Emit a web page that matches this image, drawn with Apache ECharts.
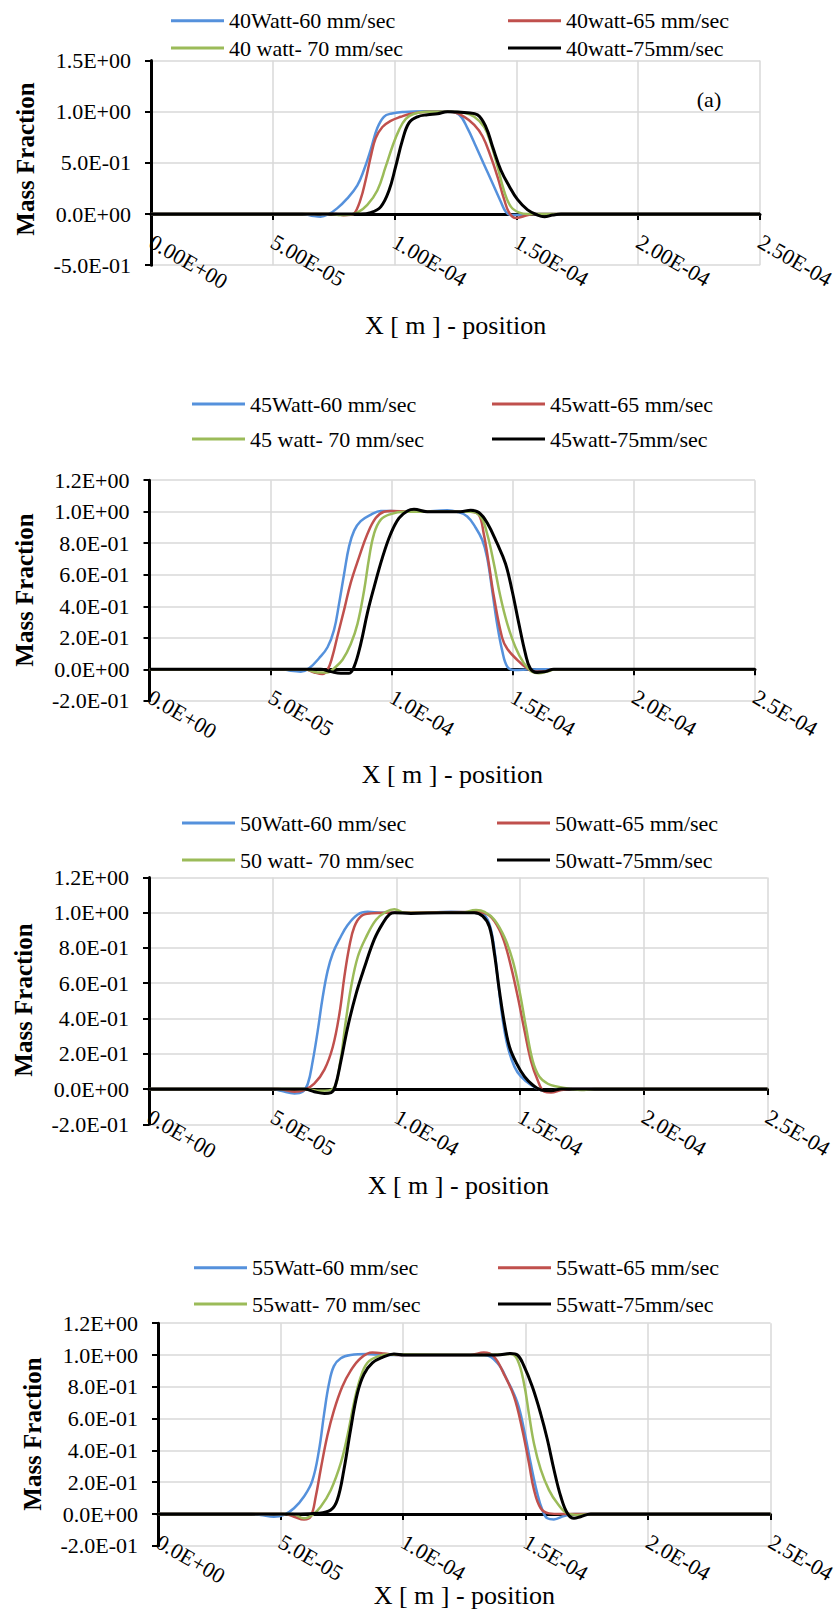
<!DOCTYPE html>
<html>
<head>
<meta charset="utf-8">
<script src="https://cdn.jsdelivr.net/npm/echarts@6.0.0/dist/echarts.min.js"></script>
<style>
html,body{margin:0;padding:0;background:#fff;}
#c{width:839px;height:1611px;}
</style>
</head>
<body>
<div id="c"></div>
<script>
// ---------- DATA (x in micrometres, y = mass fraction) ----------
const names40 = ['40Watt-60 mm/sec', '40watt-65 mm/sec', '40 watt- 70 mm/sec', '40watt-75mm/sec'];
const names45 = ['45Watt-60 mm/sec', '45watt-65 mm/sec', '45 watt- 70 mm/sec', '45watt-75mm/sec'];
const names50 = ['50Watt-60 mm/sec', '50watt-65 mm/sec', '50 watt- 70 mm/sec', '50watt-75mm/sec'];
const names55 = ['55Watt-60 mm/sec', '55watt-65 mm/sec', '55watt- 70 mm/sec', '55watt-75mm/sec'];

const s40_60 = [[0,0],[62,0],[66.8,-0.02],[69.6,-0.026],[73,0],[76.4,0.055],[80.5,0.15],[84.7,0.28],[87.4,0.43],[90.2,0.63],[92.9,0.84],[95.6,0.95],[98.4,0.98],[103.9,0.997],[112.1,1.005],[121.7,1.005],[126.5,0.97],[129.9,0.84],[133.4,0.66],[136.8,0.48],[140.2,0.3],[143.6,0.12],[145.7,0.02],[147.8,-0.01],[151.9,-0.01],[156,0],[250,0]];
const s40_65 = [[0,0],[76,0],[79,-0.012],[82,-0.008],[83.3,0],[86,0.14],[88.1,0.33],[90.2,0.56],[92.2,0.74],[95,0.85],[98.4,0.91],[102.5,0.95],[106.6,0.98],[113.5,1.0],[123,1.0],[128.6,0.95],[132.7,0.87],[136.1,0.76],[139.5,0.56],[142.3,0.36],[145,0.14],[147.1,0.01],[149.8,-0.04],[153.3,-0.02],[157.4,0],[250,0]];
const s40_70 = [[0,0],[74,0],[77.8,-0.01],[81,-0.008],[84.7,0.013],[88.8,0.09],[92.9,0.23],[96.3,0.46],[99.1,0.66],[101.8,0.82],[104.6,0.93],[108,0.98],[113.5,1.0],[123,1.0],[128.6,0.99],[132.7,0.95],[136.8,0.85],[139.5,0.69],[142.3,0.46],[145,0.22],[147.8,0.07],[151.2,0.013],[154.6,0],[250,0]];
const s40_75 = [[0,0],[86,0],[90.2,0.013],[94.3,0.07],[97.7,0.23],[100.4,0.46],[103.2,0.72],[105.9,0.89],[109.4,0.95],[113.5,0.97],[117.6,0.98],[121.7,1.0],[129.9,0.99],[134,0.97],[137.5,0.85],[140.2,0.66],[143.6,0.43],[147.1,0.27],[150.5,0.14],[154.6,0.04],[158.7,-0.01],[161.5,-0.026],[164.9,-0.01],[168.3,0],[250,0]];

const s45_60 = [[0,0],[55,0],[58.4,-0.01],[62.5,-0.015],[65.9,0.006],[70,0.07],[73.5,0.14],[76.2,0.25],[78.3,0.42],[80.4,0.61],[82.4,0.78],[84.5,0.88],[87.2,0.94],[91.3,0.98],[95.5,1.005],[102,1.003],[112,1.0],[122.9,1.01],[127,1.0],[131.2,0.97],[134.6,0.9],[137.4,0.82],[139.4,0.71],[141.5,0.5],[143.5,0.29],[145.6,0.12],[147.7,0.017],[150.4,-0.004],[156,-0.002],[160,0],[250,0]];
const s45_65 = [[0,0],[63.9,0],[68,-0.02],[71.4,-0.03],[73.5,-0.004],[75.5,0.08],[77.6,0.21],[80.4,0.38],[83.1,0.55],[86.5,0.71],[90,0.86],[93.4,0.96],[96.8,1.0],[99.6,1.005],[108,1.0],[132.6,1.0],[136,0.98],[138,0.86],[140.1,0.67],[142.2,0.46],[145.6,0.2],[147.7,0.13],[151.8,0.06],[155.9,0.006],[158.7,-0.015],[162.8,-0.015],[166.9,0],[250,0]];
const s45_70 = [[0,0],[64,0],[69.4,-0.02],[73.5,-0.02],[76.2,0.006],[79.7,0.06],[83.1,0.16],[85.9,0.29],[88.6,0.5],[90.7,0.71],[92.7,0.86],[95.5,0.95],[99.6,0.985],[105.1,1.0],[132.6,1.0],[136.7,0.97],[139.4,0.86],[142.2,0.67],[144.9,0.46],[147.7,0.29],[151.1,0.14],[154.5,0.04],[157.9,-0.015],[160.7,-0.025],[164.1,-0.015],[167.6,0],[250,0]];
const s45_75 = [[0,0],[70.7,0],[74.9,-0.015],[79,-0.025],[82.4,-0.025],[84.5,0.017],[87.2,0.16],[90,0.36],[92.7,0.52],[96.2,0.71],[99.6,0.86],[103,0.96],[106.5,1.005],[109.2,1.015],[114.7,1.0],[121.6,1.0],[128.4,1.0],[132.6,1.01],[136,0.995],[139.4,0.93],[143.5,0.8],[147,0.67],[149.7,0.5],[152.5,0.29],[155.2,0.1],[157.2,0.006],[160,-0.02],[163.5,-0.015],[166.9,0],[250,0]];

const s50_60 = [[0,0],[50,0],[53.4,-0.01],[58.8,-0.025],[62.1,-0.015],[64.2,0.03],[66.2,0.16],[68.2,0.33],[70.2,0.52],[72.2,0.67],[74.3,0.77],[77,0.85],[80.3,0.93],[84.4,0.99],[88.4,1.005],[93.8,1.0],[110,1.0],[122.1,1.005],[134.2,0.996],[136.9,0.96],[139,0.85],[141,0.62],[143,0.39],[145,0.24],[147.7,0.127],[150.4,0.07],[154.4,0.023],[158.5,-0.006],[161.2,-0.01],[166.6,0],[250,0]];
const s50_65 = [[0,0],[52,0],[58.8,-0.015],[62.8,-0.006],[66.8,0.03],[70.9,0.11],[74.3,0.24],[77,0.43],[79,0.64],[81,0.81],[83,0.92],[85.7,0.98],[89.8,0.996],[96.5,1.0],[131.5,1.004],[136.9,0.99],[141,0.92],[143.7,0.83],[146.4,0.69],[149.1,0.52],[151.8,0.33],[154.4,0.16],[157.1,0.05],[159.8,-0.015],[162.5,-0.02],[166.6,-0.006],[170.6,0],[250,0]];
const s50_70 = [[0,0],[62.8,0],[69.5,-0.01],[74.3,0],[77,0.13],[79.6,0.39],[81.7,0.58],[84.4,0.75],[87.7,0.86],[91.8,0.96],[95.8,1.005],[99.2,1.02],[103.2,1.0],[126,1.0],[132.2,1.015],[135.6,1.005],[139.6,0.96],[143.7,0.86],[147,0.73],[149.7,0.56],[152.4,0.35],[155.1,0.16],[157.8,0.07],[161.2,0.03],[165.2,0.013],[170.6,0],[174.7,-0.006],[180,0],[250,0]];
const s50_75 = [[0,0],[62.8,0],[66.8,-0.015],[70.9,-0.025],[73.6,-0.02],[75.2,0.013],[77.6,0.16],[80.3,0.35],[83.7,0.54],[87.1,0.69],[91.1,0.85],[94.5,0.94],[97.2,0.99],[99.2,1.0],[105.9,0.996],[119.4,1.0],[131.5,1.0],[134.9,0.98],[137.6,0.92],[139.6,0.77],[141.6,0.56],[143.7,0.37],[145.7,0.24],[148.4,0.15],[151.8,0.07],[155.1,0.023],[158.5,-0.006],[162.5,-0.01],[166.6,0],[250,0]];

const s55_60 = [[0,0],[38,0],[41.9,-0.006],[47.3,-0.017],[51.4,-0.006],[55.5,0.036],[59.6,0.11],[63,0.21],[65.7,0.4],[67.8,0.63],[69.8,0.82],[71.8,0.93],[74.6,0.98],[78.6,1.0],[85.4,1.006],[92.2,1.0],[133,1.0],[138.5,0.95],[142.6,0.84],[146.7,0.7],[149.4,0.53],[152.1,0.32],[154.8,0.13],[156.9,0.025],[158.9,-0.027],[161.6,-0.034],[165.7,-0.013],[169.8,0],[250,0]];
const s55_65 = [[0,0],[51.4,0],[55.5,-0.017],[59.6,-0.034],[62.3,-0.017],[64.4,0.11],[66.4,0.28],[69.1,0.49],[71.8,0.65],[75.2,0.8],[78.6,0.9],[82.7,0.98],[87.5,1.015],[92.2,1.01],[97.7,1.0],[127.6,1.0],[133,1.015],[137.1,0.99],[141.2,0.88],[145.3,0.74],[148.7,0.53],[151.4,0.32],[153.5,0.15],[156.2,0.036],[159.6,0.004],[164.4,0],[250,0]];
const s55_70 = [[0,0],[55,0],[59.6,-0.027],[63,-0.006],[66.4,0.046],[70.5,0.15],[74.6,0.32],[77.3,0.49],[80,0.7],[82.7,0.86],[85.4,0.95],[89.5,0.99],[95,1.004],[133,1.0],[143.9,1.006],[146.7,0.97],[149.4,0.82],[151.4,0.63],[153.5,0.44],[156.2,0.28],[159.6,0.15],[163,0.067],[167.1,0.004],[171.8,-0.006],[176.6,0],[250,0]];
const s55_75 = [[0,0],[58.2,0],[65,0.004],[70.5,0.025],[73.2,0.09],[75.9,0.28],[78.6,0.53],[81.4,0.76],[84.1,0.88],[87.5,0.95],[91.6,0.985],[96.3,1.006],[100.4,1.0],[138.5,1.0],[143.9,1.01],[146.7,1.0],[149.4,0.93],[152.8,0.8],[156.2,0.63],[158.9,0.47],[161.6,0.28],[164.4,0.11],[167.1,0.004],[169.8,-0.027],[172.5,-0.017],[176.6,0],[250,0]];

// axis ranges / tick settings
const xRange = {min: 0, max: 250, interval: 50};            // micrometres
const yRanges = [
  {min: -0.5, max: 1.5, interval: 0.5},
  {min: -0.2, max: 1.2, interval: 0.2},
  {min: -0.2, max: 1.2, interval: 0.2},
  {min: -0.2, max: 1.2, interval: 0.2}
];
const xLabelDigits = [2, 1, 1, 1];
const xTitle = 'X [ m ] - position';
const yTitle = 'Mass Fraction';
const panelTag = '(a)';

// ---------- STYLE / LAYOUT ----------
const colors = ['#5591dc', '#c0504d', '#9bbb59', '#000000'];
const FONT = 'Liberation Serif, Times New Roman, serif';
const panels = [
  {grid: {left: 151, top: 60.5, width: 609, height: 204.7}, leg: {c1: 171, c2: 508, top: 8.7, gap: 3.3}, yt: [25.8, 159], xt: 325},
  {grid: {left: 149.5, top: 480.2, width: 605.5, height: 220.6}, leg: {c1: 192, c2: 492, top: 392, gap: 11}, yt: [24, 590], xt: 774},
  {grid: {left: 149, top: 877.4, width: 618.5, height: 246.9}, leg: {c1: 182, c2: 497, top: 811, gap: 13}, yt: [23, 1000], xt: 1185},
  {grid: {left: 158, top: 1323.2, width: 612.5, height: 222.6}, leg: {c1: 194, c2: 498, top: 1255.7, gap: 12.3}, yt: [32, 1434], xt: 1595}
];
const seriesData = [
  [s40_60, s40_65, s40_70, s40_75],
  [s45_60, s45_65, s45_70, s45_75],
  [s50_60, s50_65, s50_70, s50_75],
  [s55_60, s55_65, s55_70, s55_75]
];
const seriesNames = [names40, names45, names50, names55];

function sci(v, d) {
  if (Math.abs(v) < 1e-15) return (0).toFixed(d) + 'E+00';
  let e = Math.floor(Math.log10(Math.abs(v)) + 1e-9);
  let ms = Math.abs(v / Math.pow(10, e)).toFixed(d);
  if (parseFloat(ms) >= 10) { e += 1; ms = Math.abs(v / Math.pow(10, e)).toFixed(d); }
  return (v < 0 ? '-' : '') + ms + 'E' + (e < 0 ? '-' : '+') + String(Math.abs(e)).padStart(2, '0');
}

const grid = [], xAxis = [], yAxis = [], series = [], legend = [], graphic = [];
panels.forEach((p, i) => {
  const yr = yRanges[i];
  // shift the x axis (line, ticks, labels) up from the grid bottom to y = 0
  const zeroShift = p.grid.height * (0 - yr.min) / (yr.max - yr.min);
  grid.push(Object.assign({outerBoundsMode: 'none', containLabel: false}, p.grid));
  xAxis.push({
    type: 'value', gridIndex: i, min: xRange.min, max: xRange.max, interval: xRange.interval,
    position: 'bottom', offset: -zeroShift,
    axisLine: {show: true, onZero: false, lineStyle: {color: '#000', width: 3}},
    axisTick: {show: true, length: 6, lineStyle: {color: '#000', width: 2}},
    axisLabel: {rotate: -30, margin: 26, color: '#000', fontFamily: FONT, fontSize: 22,
      showMinLabel: true, showMaxLabel: true, hideOverlap: false,
      formatter: (v) => sci(v * 1e-6, xLabelDigits[i])},
    splitLine: {show: true, lineStyle: {color: '#d9d9d9', width: 1.5}}
  });
  yAxis.push({
    type: 'value', gridIndex: i, min: yr.min, max: yr.max, interval: yr.interval,
    axisLine: {show: true, onZero: false, lineStyle: {color: '#000', width: 3}},
    axisTick: {show: true, length: 6, lineStyle: {color: '#000', width: 2}},
    axisLabel: {margin: 20, color: '#000', fontFamily: FONT, fontSize: 22,
      showMinLabel: true, showMaxLabel: true, formatter: (v) => sci(v, 1)},
    splitLine: {show: true, lineStyle: {color: '#d9d9d9', width: 1.5}}
  });
  seriesData[i].forEach((d, k) => {
    series.push({
      type: 'line', name: seriesNames[i][k], xAxisIndex: i, yAxisIndex: i,
      data: d, symbol: 'none', showSymbol: false, smooth: 0.4,
      lineStyle: {color: colors[k], width: k === 3 ? 3 : 2.5},
      itemStyle: {color: colors[k]}, z: 3 + k, silent: true
    });
  });
  const legBase = {orient: 'vertical', icon: 'rect', itemWidth: 53, itemHeight: 3, selectedMode: false,
    textStyle: {fontFamily: FONT, fontSize: 22, color: '#000', lineHeight: 24}, padding: 0};
  legend.push(Object.assign({}, legBase, {left: p.leg.c1, top: p.leg.top, itemGap: p.leg.gap,
    data: [seriesNames[i][0], seriesNames[i][2]]}));
  legend.push(Object.assign({}, legBase, {left: p.leg.c2, top: p.leg.top, itemGap: p.leg.gap,
    data: [seriesNames[i][1], seriesNames[i][3]]}));
  graphic.push({type: 'text', x: p.yt[0], y: p.yt[1], rotation: Math.PI / 2,
    style: {text: yTitle, fontFamily: FONT, fontSize: 25, fontWeight: 'bold', fill: '#000', align: 'center', verticalAlign: 'middle'}});
  graphic.push({type: 'text', x: p.grid.left + p.grid.width / 2, y: p.xt,
    style: {text: xTitle, fontFamily: FONT, fontSize: 26, fill: '#000', align: 'center', verticalAlign: 'middle'}});
});
graphic.push({type: 'text', x: 709, y: 99,
  style: {text: panelTag, fontFamily: FONT, fontSize: 22, fill: '#000', align: 'center', verticalAlign: 'middle'}});

const chart = echarts.init(document.getElementById('c'), null, {renderer: 'svg', width: 839, height: 1611});
chart.setOption({
  animation: false,
  backgroundColor: '#fff',
  grid, xAxis, yAxis, series, legend, graphic
});
</script>
</body>
</html>
